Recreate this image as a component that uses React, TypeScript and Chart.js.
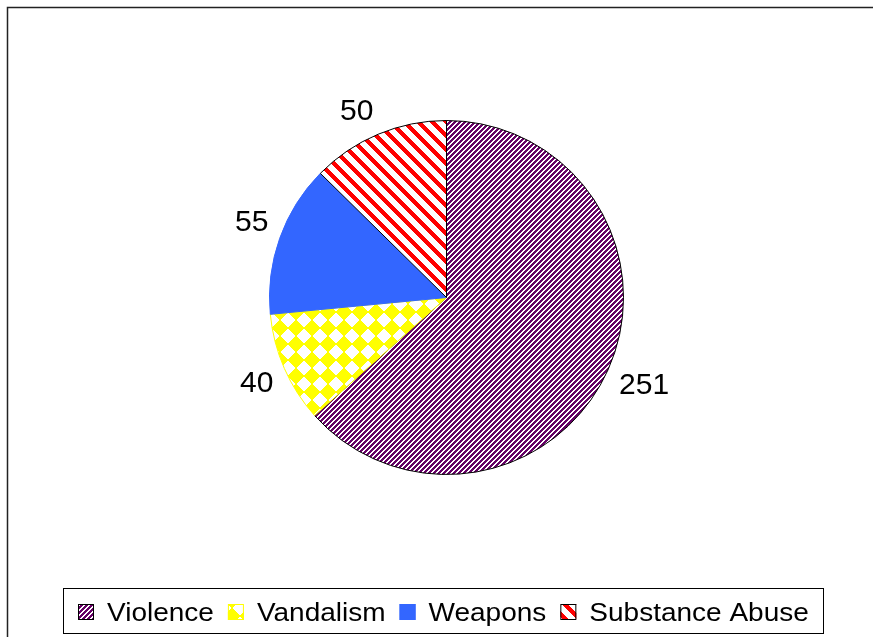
import React, { useEffect, useRef } from "react";
import { Chart, registerables } from "chart.js";

Chart.register(...registerables);

const categories = ["Violence", "Vandalism", "Weapons", "Substance Abuse"];
const counts = [251, 40, 55, 50];
const sliceBorders = ["#000000", "#FFFF00", "#3366FF", "#000000"];

const W = 873;
const H = 637;

function hexToRgb(hex: string): [number, number, number] {
  const h = hex.replace("#", "");
  return [parseInt(h.slice(0, 2), 16), parseInt(h.slice(2, 4), 16), parseInt(h.slice(4, 6), 16)];
}

function makePattern(size: number, test: (x: number, y: number) => boolean, fg: string, bg: string) {
  const c = document.createElement("canvas");
  c.width = size;
  c.height = size;
  const ctx = c.getContext("2d")!;
  const img = ctx.createImageData(size, size);
  const f = hexToRgb(fg);
  const b = hexToRgb(bg);
  for (let y = 0; y < size; y++) {
    for (let x = 0; x < size; x++) {
      const col = test(x, y) ? f : b;
      const i = (y * size + x) * 4;
      img.data[i] = col[0];
      img.data[i + 1] = col[1];
      img.data[i + 2] = col[2];
      img.data[i + 3] = 255;
    }
  }
  ctx.putImageData(img, 0, 0);
  const main = document.createElement("canvas").getContext("2d")!;
  return main.createPattern(c, "repeat")!;
}

const mod = (a: number, n: number) => ((a % n) + n) % n;

export default function App() {
  const ref = useRef<HTMLCanvasElement | null>(null);

  useEffect(() => {
    const canvas = ref.current!;
    const violence = makePattern(5, (x, y) => mod(x + y, 5) < 3, "#660066", "#FFFFFF");
    const vandalism = makePattern(
      16,
      (x, y) => Math.abs(x + 0.5 - 8) + Math.abs(y + 0.5 - 8) < 8.4,
      "#FFFF00",
      "#FFFFFF"
    );
    const substance = makePattern(14, (x, y) => mod(x - y, 14) < 6, "#FF0000", "#FFFFFF");
    const fills: any[] = [violence, vandalism, "#3366FF", substance];

    const frameAndLabels = {
      id: "frameAndLabels",
      afterDraw(chart: any) {
        const ctx = chart.ctx as CanvasRenderingContext2D;
        ctx.save();
        // outer chart frame
        ctx.strokeStyle = "#222222";
        ctx.lineWidth = 1.5;
        ctx.strokeRect(7.5, 7.5, W + 20, H + 20);

        // data labels
        const meta = chart.getDatasetMeta(0);
        ctx.font = '30px "Liberation Sans", Arial, sans-serif';
        ctx.fillStyle = "#000000";
        ctx.textAlign = "center";
        ctx.textBaseline = "alphabetic";
        const capH = 22;
        meta.data.forEach((arc: any, i: number) => {
          const p = arc.getProps(["x", "y", "startAngle", "endAngle", "outerRadius"], true);
          const mid = (p.startAngle + p.endAngle) / 2;
          const dx = Math.cos(mid);
          const dy = Math.sin(mid);
          const d = p.outerRadius + 12;
          const ax = p.x + dx * d;
          const ay = p.y + dy * d;
          const txt = String(chart.data.datasets[0].data[i]);
          const w = ctx.measureText(txt).width;
          const cx = ax + Math.sign(dx) * w / 2;
          const cy = ay + Math.sign(dy) * capH / 2;
          ctx.fillText(txt, cx, cy + capH / 2 - 3);
        });

        // legend
        const fontPx = 25;
        const stretch = 1.12;
        ctx.font = `${fontPx}px "Liberation Sans", Arial, sans-serif`;
        ctx.textAlign = "left";
        const labels: string[] = chart.data.labels;
        const sw = 16;
        const swGap = 13;
        const itemGap = 14;
        const widths = labels.map((l) => ctx.measureText(l).width * stretch);
        const total = widths.reduce((a, b) => a + b, 0) + labels.length * (sw + swGap) + (labels.length - 1) * itemGap;
        const boxL = 63;
        const boxR = 823;
        let x = Math.round((boxL + boxR) / 2 - total / 2);
        const boxT = 588;
        const boxB = 633;
        ctx.fillStyle = "#FFFFFF";
        ctx.fillRect(boxL, boxT, boxR - boxL, boxB - boxT);
        ctx.strokeStyle = "#000000";
        ctx.lineWidth = 1;
        ctx.strokeRect(boxL + 0.5, boxT + 0.5, boxR - boxL, boxB - boxT);
        const ds = chart.data.datasets[0];
        labels.forEach((l, i) => {
          ctx.fillStyle = ds.backgroundColor[i];
          ctx.fillRect(x, 604, sw, sw);
          ctx.strokeStyle = ds.borderColor[i];
          ctx.lineWidth = 1;
          ctx.strokeRect(x + 0.5, 604.5, sw - 1, sw - 1);
          const tx = x + sw + swGap;
          ctx.fillStyle = "#000000";
          ctx.save();
          ctx.translate(tx, 621);
          ctx.scale(stretch, 1);
          ctx.fillText(l, 0, 0);
          ctx.restore();
          x = tx + widths[i] + itemGap;
        });
        ctx.restore();
      },
    };

    const chart = new Chart(canvas, {
      type: "pie",
      data: {
        labels: categories,
        datasets: [
          {
            data: counts,
            backgroundColor: fills,
            borderColor: sliceBorders,
            borderWidth: 1,
            hoverOffset: 0,
          },
        ],
      },
      options: {
        responsive: false,
        animation: false,
        devicePixelRatio: 1,
        layout: { padding: { left: 269, right: 249, top: 120, bottom: 162 } },
        plugins: {
          legend: { display: false },
          tooltip: { enabled: false },
          title: { display: false },
        },
      },
      plugins: [frameAndLabels],
    });
    return () => chart.destroy();
  }, []);

  return (
    <div style={{ position: "absolute", left: 0, top: 0, width: W, height: H, background: "#FFFFFF" }}>
      <canvas ref={ref} width={W} height={H} style={{ display: "block" }} />
    </div>
  );
}
